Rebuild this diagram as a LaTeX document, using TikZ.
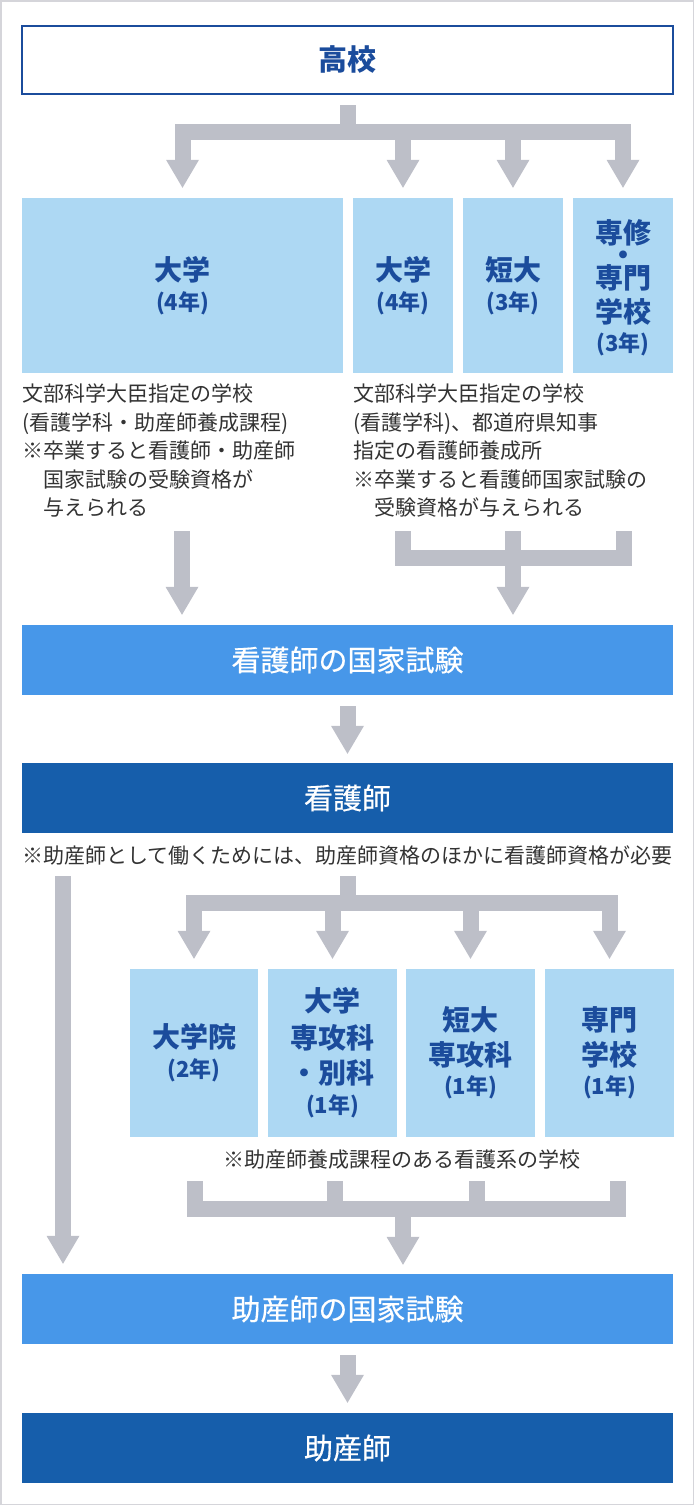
\documentclass[tikz,border=0pt]{standalone}
\usepackage{fontspec}
\setmainfont{Noto Sans CJK JP}
\newfontfamily\medfont[FakeBold=0.5]{Noto Sans CJK JP}
\usetikzlibrary{arrows.meta,calc}

\definecolor{pipegray}{HTML}{BDBFC8}
\definecolor{paleblue}{HTML}{ADD8F3}
\definecolor{schoolblue}{HTML}{1B4C9C}
\definecolor{examblue}{HTML}{4797E9}
\definecolor{jobblue}{HTML}{165EAB}
\definecolor{notegray}{HTML}{333333}
\definecolor{framegray}{HTML}{D5D5DA}

\newcommand{\yrs}[1]{{\fontsize{22}{32}\selectfont(#1年)}}

\begin{document}
\begin{tikzpicture}[
    x=1pt, y=-1pt,
    school/.style={rectangle, fill=paleblue, text=schoolblue, inner sep=0pt, align=center, font=\bfseries\fontsize{28}{35}\selectfont},
    exam/.style={rectangle, fill=examblue, text=white, minimum width=651pt, minimum height=70pt, inner sep=0pt, font=\medfont\fontsize{29}{35}\selectfont},
    job/.style={exam, fill=jobblue},
    note/.style={text=notegray, inner sep=0pt, align=left, font=\fontsize{21}{28.4}\selectfont},
    pipe/.style={draw=pipegray, line width=16pt, line join=miter},
    pipearrow/.style={pipe, -{Triangle[width=33pt,length=28pt,line width=0pt]}}
]
    \useasboundingbox (0,0) rectangle (694,1505);
    \draw[framegray, line width=1.5pt] (0.75,0.75) rectangle (693.25,1504.25);

    % High school
    \node[rectangle, draw=schoolblue, line width=2pt, fill=white, text=schoolblue, minimum width=651pt, minimum height=68pt, inner sep=0pt, font=\bfseries\fontsize{29}{35}\selectfont] (koko) at (347.5,59.5) {高校};

    % First schools
    \node[school, minimum width=321pt, minimum height=175pt] (daiA) at (182.5,285.5) {大学\\[-5pt]\yrs{4}};
    \node[school, minimum width=100pt, minimum height=175pt] (daiB) at (403,285.5) {大学\\[-5pt]\yrs{4}};
    \node[school, minimum width=100pt, minimum height=175pt] (tandai) at (513,285.5) {短大\\[-5pt]\yrs{3}};
    \node[school, minimum width=100pt, minimum height=175pt] (senmon) at (623,285.5) {\rule{0pt}{28pt}専修\\[-13pt]・\\[-12pt]専門\\[-1pt]学校\\[-6pt]\yrs{3}};

    % Notes under first schools
    \node[note, anchor=north west] (noteA) at (22,384) {文部科学大臣指定の学校\\(看護学科・助産師養成課程)\\※卒業すると看護師・助産師\\　国家試験の受験資格が\\　与えられる};
    \node[note, anchor=north west] (noteB) at (353,384) {文部科学大臣指定の学校\\(看護学科)、都道府県知事\\指定の看護師養成所\\※卒業すると看護師国家試験の\\　受験資格が与えられる};

    % Nurse
    \node[exam] (kangoExam) at (347.5,660) {看護師の国家試験};
    \node[job] (kango) at (347.5,798) {看護師};
    \node[note, align=center] (noteC) at (347.5,855) {※助産師として働くためには、助産師資格のほかに看護師資格が必要};

    % Midwife schools
    \node[school, minimum width=128pt, minimum height=168pt] (daigakuin) at (194,1053) {大学院\\[-5pt]\yrs{2}};
    \node[school, minimum width=129pt, minimum height=168pt] (senkoA) at (332.5,1053) {大学\\[2pt]専攻科\\・別科\\[-5pt]\yrs{1}};
    \node[school, minimum width=129pt, minimum height=168pt] (senkoB) at (470.5,1053) {短大\\専攻科\\[-6pt]\yrs{1}};
    \node[school, minimum width=129pt, minimum height=168pt] (senkoC) at (609.5,1053) {専門\\学校\\[-6pt]\yrs{1}};
    \node[note, align=center] (noteD) at (402,1160) {※助産師養成課程のある看護系の学校};

    % Midwife
    \node[exam] (josanExam) at (347.5,1309) {助産師の国家試験};
    \node[job] (josan) at (347.5,1448) {助産師};

    % Fan out from high school
    \coordinate (fanTop) at (348,105);
    \coordinate (fanMid) at (348,132);
    \draw[pipe] (fanTop) -- (fanMid);
    \draw[pipearrow] (fanMid) -| ($(daiA.north)+(0,-10)$);
    \draw[pipearrow] (fanMid) -| ($(daiB.north)+(0,-10)$);
    \draw[pipearrow] (fanMid) -| ($(tandai.north)+(0,-10)$);
    \draw[pipearrow] (fanMid) -| ($(senmon.north)+(0,-10)$);

    % Into nurse exam
    \coordinate (leftTop) at (182,531);
    \draw[pipearrow] (leftTop) -- ($(leftTop |- kangoExam.north)+(0,-10)$);
    \coordinate (mergeA) at (403,531);
    \coordinate (mergeB) at (513,531);
    \coordinate (mergeC) at (624,531);
    \coordinate (mergeMid) at (513,558);
    \draw[pipe] (mergeA) |- (mergeMid);
    \draw[pipe] (mergeC) |- (mergeMid);
    \draw[pipearrow] (mergeB) -- ($(mergeB |- kangoExam.north)+(0,-10)$);

    \draw[pipearrow] ($(kangoExam.south)+(0,11)$) -- ($(kango.north)+(0,-9)$);

    % Fan out from nurse
    \coordinate (fan2Top) at (348,876);
    \coordinate (fan2Mid) at (348,903);
    \draw[pipe] (fan2Top) -- (fan2Mid);
    \draw[pipearrow] (fan2Mid) -| ($(daigakuin.north)+(0,-10)$);
    \draw[pipearrow] (fan2Mid) -| ($(senkoA.north)+(0,-10)$);
    \draw[pipearrow] (fan2Mid) -| ($(senkoB.north)+(0,-10)$);
    \draw[pipearrow] (fan2Mid) -| ($(senkoC.north)+(0,-10)$);

    % Straight to midwife exam
    \coordinate (skipTop) at (63,876);
    \draw[pipearrow] (skipTop) -- ($(skipTop |- josanExam.north)+(0,-10)$);

    % Merge into midwife exam
    \coordinate (join1) at (194.5,1181);
    \coordinate (join2) at (335,1181);
    \coordinate (join3) at (476.5,1181);
    \coordinate (join4) at (618,1181);
    \coordinate (joinMid) at (403,1209);
    \draw[pipe] (join1) |- (joinMid);
    \draw[pipe] (join4) |- (joinMid);
    \draw[pipe] (join2) -- (join2 |- joinMid);
    \draw[pipe] (join3) -- (join3 |- joinMid);
    \draw[pipearrow] (joinMid) -- ($(joinMid |- josanExam.north)+(0,-9)$);

    \draw[pipearrow] ($(josanExam.south)+(0,11)$) -- ($(josan.north)+(0,-10)$);
\end{tikzpicture}
\end{document}
